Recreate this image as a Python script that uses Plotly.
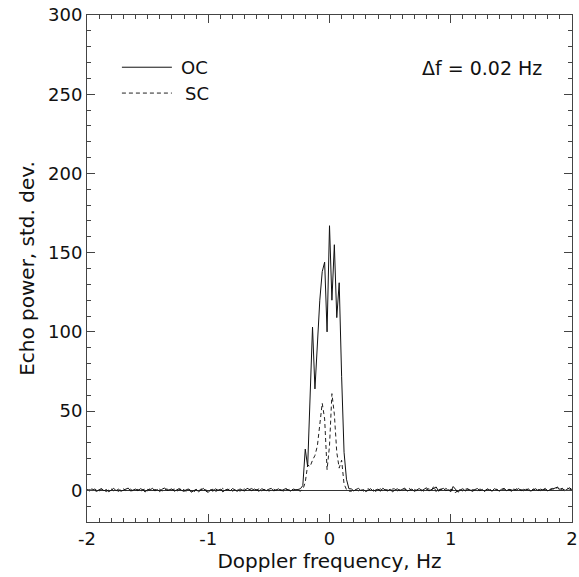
import plotly.graph_objects as go

# Doppler spectrum, 0.02 Hz bins from -2 to +2 Hz
F_START = -2.0
DF = 0.02
freq = [round(F_START + DF * i, 2) for i in range(201)]

# OC (opposite circular) echo power, std. dev.
oc = [
    0.6, -0.4, 0.9, 0.2, -0.7, 0.4, 1.1, -0.3, 0.5, -0.9,
    0.3, 1.2, -0.2, 0.7, -0.6, 0.1, 0.9, 1.4, -0.5, 0.2,
    0.8, -0.3, 1.0, 0.4, -1.1, 0.6, 0.2, 1.3, -0.4, 0.5,
    -0.8, 0.7, 1.5, -0.2, 0.3, 0.9, -0.6, 0.4, 1.1, 0.0,
    -0.7, 0.5, 0.8, -1.2, -0.4, 0.6, -0.9, 0.3, 1.2, -0.5,
    -1.3, 0.4, -0.6, 1.0, -0.2, 0.8, -1.0, 0.2, 0.7, -0.4,
    1.1, 0.3, -0.7, 0.9, 0.1, -0.5, 1.3, 0.4, -0.3, 0.8,
    0.2, -0.6, 1.0, 0.5, -0.2, 0.7, 1.2, -0.4, 0.3, 0.9,
    -0.3, 0.6, 1.1, 0.2, -0.5, 0.8, 0.4, 0.5, 1.0, 3.0,
    26.0, 15.0, 55.0, 103.0, 64.0, 95.0, 120.0, 138.0, 144.0, 100.0,
    167.0, 120.0, 155.0, 109.0, 131.0, 72.0, 24.0, 7.0, 1.0, 0.9,
    -0.4, 0.6, 1.2, -0.3, 0.5, -0.8, 0.2, 1.0, -0.5, 0.4,
    0.8, -0.6, 1.3, 0.1, -0.4, 0.7, -1.0, 0.3, 0.9, -0.2,
    0.6, 1.4, -0.5, 0.2, 0.8, -0.7, 0.4, 1.1, -0.3, 0.5,
    1.6, -0.4, 0.3, 0.9, 2.1, -0.6, 0.7, 1.2, -0.2, 0.4,
    -0.9, 2.4, 0.6, -1.2, 0.3, 1.0, -0.4, 0.8, 0.2, -0.7,
    0.5, 1.1, -0.3, 0.6, -0.8, 0.9, 0.3, -0.5, 1.0, 0.2,
    -0.4, 0.7, 1.2, -0.2, 0.5, -0.6, 0.8, 0.1, 1.1, -0.3,
    0.6, 0.2, 0.9, -0.5, 0.4, 1.0, -0.2, 0.7, 0.3, 1.2,
    -0.4, 0.5, 0.8, 1.5, 2.0, 0.6, 1.3, -0.3, 0.9, 1.6,
    0.4,
]

# SC (same circular) echo power, std. dev.
sc = [
    -0.2, 0.5, -0.6, 0.8, 0.3, -0.4, 0.6, 0.1, -0.8, 0.4,
    0.9, -0.3, 0.2, -0.7, 0.5, 1.0, -0.2, 0.3, 0.7, -0.5,
    0.1, 0.6, -0.9, 0.4, 0.8, -0.3, 1.1, -0.1, 0.5, 0.2,
    0.7, -0.5, 0.3, 0.9, -0.4, 0.2, 0.8, -0.6, 0.4, 1.2,
    0.3, -0.8, 0.6, -0.2, -1.4, 0.5, -0.7, 1.0, -0.3, 0.4,
    -0.9, 0.2, 0.7, -1.1, 0.6, -0.4, 1.3, -0.2, 0.5, 0.9,
    -0.5, 0.3, 1.0, -0.6, 0.4, 0.8, -0.3, 0.6, 1.1, -0.2,
    0.5, 0.9, -0.4, 0.2, 1.0, -0.5, 0.3, 0.7, -0.1, 0.6,
    0.4, -0.6, 0.8, 0.3, 0.9, -0.2, 0.5, 0.0, -0.5, 0.5,
    5.0, 16.0, 15.0, 19.0, 22.0, 28.0, 40.0, 55.0, 45.0, 13.0,
    28.0, 61.0, 48.0, 24.0, 14.0, 19.0, 4.0, 0.5, -0.5, -0.6,
    0.5, 0.2, -0.3, 0.8, -0.5, 0.4, 1.0, -0.2, 0.6, -0.7,
    0.3, 0.9, -0.4, 0.5, 0.2, -0.6, 0.8, 1.1, -0.3, 0.4,
    -0.5, 0.7, 0.2, 1.2, -0.4, 0.6, -0.2, 0.9, 0.3, -0.8,
    0.5, 1.0, -0.3, 2.6, -1.0, 0.4, 0.8, -0.5, 1.3, -0.2,
    0.6, 0.3, -1.6, 0.9, 0.2, -0.4, 0.7, 1.0, -0.3, 0.5,
    0.1, -0.6, 0.8, 0.4, -0.2, 0.6, 1.1, -0.4, 0.3, 0.7,
    -0.5, 0.2, 0.9, -0.3, 0.6, 0.4, -0.7, 1.0, 0.2, 0.5,
    -0.4, 0.8, 0.3, -0.6, 0.9, 0.1, 0.6, -0.2, 1.0, 0.4,
    -0.3, 0.7, 1.2, 0.5, 1.8, -0.2, 0.8, 0.3, 1.4, 0.7,
    0.2,
]

FONT = "DejaVu Sans"
INK = "#111"
AXIS = "#444"

fig = go.Figure()
fig.add_trace(go.Scatter(x=freq, y=sc, mode="lines", name="SC",
                         line=dict(color="#222", width=1, dash="4px,3px")))
fig.add_trace(go.Scatter(x=freq, y=oc, mode="lines", name="OC",
                         line=dict(color="#111", width=1)))

axis_common = dict(
    showline=True, linecolor=AXIS, linewidth=1, mirror="ticks",
    ticks="inside", ticklen=8, tickcolor=AXIS, showgrid=False,
    automargin=False, ticklabeloverflow="allow",
    tickfont=dict(family=FONT, size=18, color=INK),
)

fig.update_xaxes(range=[-2, 2.00001], tickvals=[-2, -1, 0, 1, 2], ticktext=["-2", "-1", "0", "1", "2"],
                 zeroline=False,
                 minor=dict(dtick=0.1, tick0=0, ticks="inside", ticklen=4, tickcolor=AXIS),
                 title=dict(text="Doppler frequency, Hz", standoff=6,
                            font=dict(family=FONT, size=20, color=INK)),
                 **axis_common)
fig.update_yaxes(range=[-20, 300], dtick=50, tick0=0,
                 zeroline=True, zerolinecolor="#333", zerolinewidth=1,
                 minor=dict(dtick=10, ticks="inside", ticklen=4, tickcolor=AXIS),
                 title=dict(text="Echo power, std. dev.", standoff=8,
                            font=dict(family=FONT, size=20, color=INK)),
                 **axis_common)

# legend drawn by hand to match the original sample length
fig.add_shape(type="line", xref="paper", yref="paper", x0=0.072, x1=0.175, y0=0.897, y1=0.897,
              line=dict(color="#111", width=1))
fig.add_shape(type="line", xref="paper", yref="paper", x0=0.072, x1=0.175, y0=0.846, y1=0.846,
              line=dict(color="#222", width=1, dash="4px,3px"))
fig.add_annotation(xref="paper", yref="paper", x=0.19, y=0.897, text="OC", showarrow=False,
                   xanchor="left", yanchor="middle", font=dict(family=FONT, size=18, color=INK))
fig.add_annotation(xref="paper", yref="paper", x=0.197, y=0.846, text="SC", showarrow=False,
                   xanchor="left", yanchor="middle", font=dict(family=FONT, size=18, color=INK))
fig.add_annotation(xref="paper", yref="paper", x=0.815, y=0.896, text="Δf = 0.02 Hz", showarrow=False,
                   xanchor="center", yanchor="middle", font=dict(family=FONT, size=19, color=INK))

fig.update_layout(
    width=579, height=577,
    margin=dict(l=87, r=7, t=15, b=55),
    paper_bgcolor="white", plot_bgcolor="white",
    showlegend=False,
)

# page body has a default 8px margin; drop it so the figure fills the window
fig.write_html("out.html", config={"displayModeBar": False},
               post_script="document.body.style.margin='0';")
